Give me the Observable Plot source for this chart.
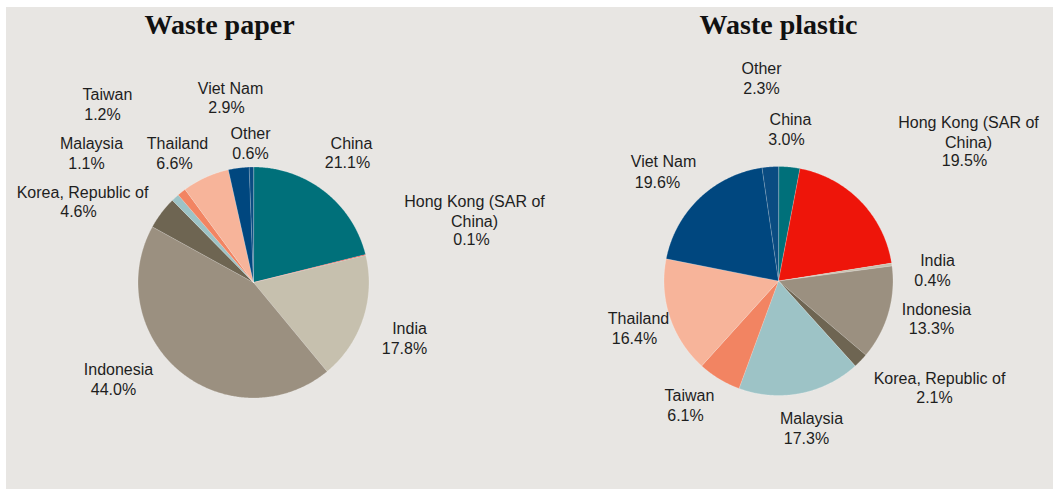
<!DOCTYPE html>
<html>
<head>
<meta charset="utf-8">
<script src="https://cdn.jsdelivr.net/npm/d3@7"></script>
<script src="https://cdn.jsdelivr.net/npm/@observablehq/plot@0.6"></script>
<style>
  html, body { margin: 0; padding: 0; background: #ffffff; }
  #chart { position: absolute; left: 6px; top: 7px; }
</style>
</head>
<body>
<div id="chart"></div>
<script>
// ---- data ----
const countries = ["China", "Hong Kong (SAR of China)", "India", "Indonesia", "Korea, Republic of",
                   "Malaysia", "Taiwan", "Thailand", "Viet Nam", "Other"];
const paperShare   = [21.1, 0.1, 17.8, 44.0, 4.6, 1.1, 1.2, 6.6, 2.9, 0.6];
const plasticShare = [3.0, 19.5, 0.4, 13.3, 2.1, 17.3, 6.1, 16.4, 19.6, 2.3];
const chartTitles  = ["Waste paper", "Waste plastic"];
const nameLabels   = ["China", "Hong Kong (SAR of\nChina)", "India", "Indonesia", "Korea, Republic of",
                      "Malaysia", "Taiwan", "Thailand", "Viet Nam", "Other"];

// ---- styles ----
const sliceColors = ["#00707a", "#ee150a", "#c6c0ae", "#9b9080", "#6e6552",
                     "#9dc3c6", "#f28462", "#f7b49a", "#00477f", "#0a4c82"];

// ---- layout (page pixel coordinates) ----
const pies = [
  {cx: 253, cy: 282, r: 115.5, tx: 219, ty: 25},
  {cx: 778, cy: 280.5, r: 114.5, tx: 778, ty: 25}
];
// per country: [nameX, nameY, pctX, pctY]
const paperLabelPos = [
  [351, 142, 347, 161],
  [474, 210, 471, 238],
  [409, 327, 404, 347],
  [118, 368, 113, 388],
  [82, 191, 78, 210],
  [91, 142, 86, 162],
  [107, 93, 102, 113],
  [177, 142, 174, 162],
  [230, 87, 226, 106],
  [250, 132, 250, 152]
];
const plasticLabelPos = [
  [790, 118, 786, 138],
  [968, 131, 964, 159],
  [937, 259, 932, 279],
  [936, 308, 931, 327],
  [939, 377, 934, 396],
  [811, 417, 806, 437],
  [689, 394, 685, 414],
  [638, 317, 634, 337],
  [663, 160, 657, 181],
  [761, 67, 761, 87]
];

// ---- build slice polygons ----
const shares = [paperShare, plasticShare];
const labelPos = [paperLabelPos, plasticLabelPos];
const slicePts = [];
const labels = [];
const titles = [];
shares.forEach((vals, ci) => {
  const {cx, cy, r} = pies[ci];
  const total = d3.sum(vals);
  let acc = 0;
  vals.forEach((v, k) => {
    const a0 = acc / total * 2 * Math.PI;
    acc += v;
    const a1 = acc / total * 2 * Math.PI;
    const key = ci + "-" + k;
    slicePts.push({key, country: countries[k], x: cx, y: cy});
    const n = Math.max(2, Math.ceil((a1 - a0) / (Math.PI / 360)));
    for (let j = 0; j <= n; j++) {
      const a = a0 + (a1 - a0) * j / n;
      slicePts.push({key, country: countries[k], x: cx + r * Math.sin(a), y: cy - r * Math.cos(a)});
    }
    const p = labelPos[ci][k];
    labels.push({text: nameLabels[k], x: p[0], y: p[1]});
    labels.push({text: v.toFixed(1) + "%", x: p[2], y: p[3]});
  });
  titles.push({text: chartTitles[ci], x: pies[ci].tx, y: pies[ci].ty});
});

const chart = Plot.plot({
  width: 1047,
  height: 482,
  margin: 0,
  x: {domain: [6, 1053], axis: null},
  y: {domain: [7, 489], reverse: true, axis: null},
  color: {domain: countries, range: sliceColors},
  style: {background: "#e8e6e3", fontFamily: "'Liberation Sans', Arial, sans-serif", overflow: "visible"},
  marks: [
    Plot.line(slicePts, {x: "x", y: "y", z: "key", fill: "country", stroke: "#ffffff",
                         strokeOpacity: 0.35, strokeWidth: 0.6, curve: "linear-closed"}),
    Plot.text(labels, {x: "x", y: "y", text: "text", fontSize: 16, fill: "#1e1e1e",
                       lineHeight: 1.25, textAnchor: "middle"}),
    Plot.text(titles, {x: "x", y: "y", text: "text", fontSize: 28, fontWeight: "bold",
                       fontFamily: "'Liberation Serif', 'DejaVu Serif', serif", fill: "#111111",
                       textAnchor: "middle"})
  ]
});
document.getElementById("chart").appendChild(chart);
</script>
</body>
</html>
